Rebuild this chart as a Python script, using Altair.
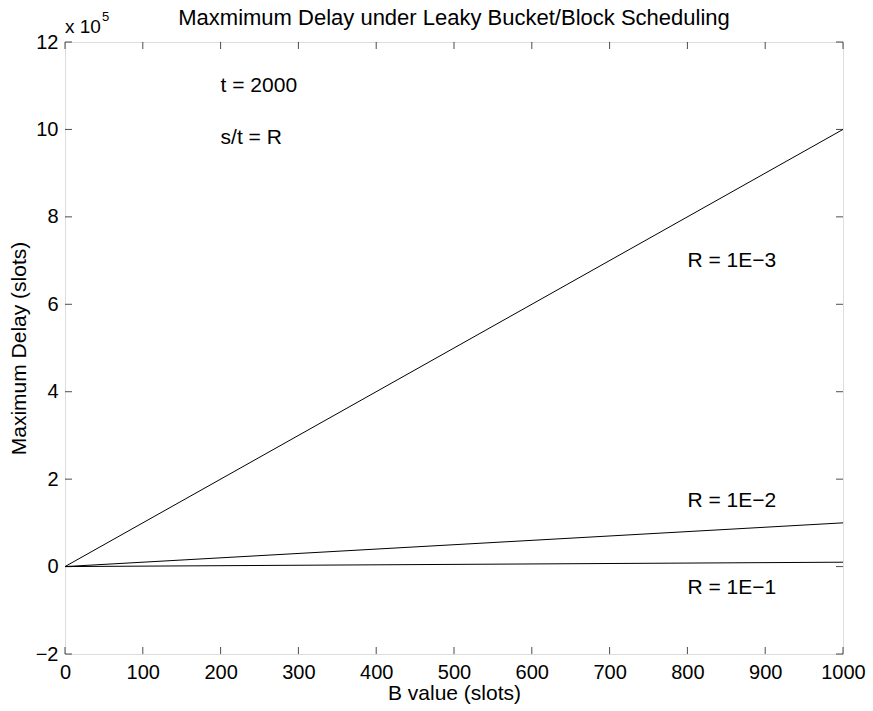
import altair as alt
import pandas as pd

# ---- data ----
b_values = [0, 1000]
delay_r_1e3 = [0, 10]      # x 1e5 slots
delay_r_1e2 = [0, 1]
delay_r_1e1 = [0, 0.1]
series_names = ["R = 1E-3", "R = 1E-2", "R = 1E-1"]

x_ticks = [0, 100, 200, 300, 400, 500, 600, 700, 800, 900, 1000]
y_ticks = [-2, 0, 2, 4, 6, 8, 10, 12]

ann_text = ["t = 2000", "s/t = R", "R = 1E\u22123", "R = 1E\u22122", "R = 1E\u22121"]
ann_x = [200, 200, 800, 800, 800]
ann_y = [11, 9.8, 7, 1.5, -0.5]

title_text = "Maxmimum Delay under Leaky Bucket/Block Scheduling"

FONT = "Liberation Sans"
FS = 21
TFS = 20

rows = []
for name, vals in zip(series_names, [delay_r_1e3, delay_r_1e2, delay_r_1e1]):
    for b, v in zip(b_values, vals):
        rows.append({"B": b, "D": v, "series": name})
df = pd.DataFrame(rows)

ann_df = pd.DataFrame({"B": ann_x, "D": ann_y, "label": ann_text})
xt_df = pd.DataFrame({"B": x_ticks, "Dlo": [-2] * len(x_ticks), "Dhi": [12] * len(x_ticks)})
yt_df = pd.DataFrame({"D": y_ticks, "Blo": [0] * len(y_ticks), "Bhi": [1000] * len(y_ticks)})
exp_df = pd.DataFrame({"B": [0], "D": [12]})
title_df = pd.DataFrame({"B": [500], "D": [12], "label": [title_text]})

xscale = alt.Scale(domain=[0, 1000], nice=False, zero=False)
yscale = alt.Scale(domain=[-2, 12], nice=False, zero=False)

x_axis = alt.Axis(values=x_ticks, format="d", tickSize=0, domain=False, grid=False,
                  labelFlush=False, labelOverlap=False, labelBound=False,
                  labelPadding=8, labelFontSize=TFS, labelFont=FONT, labelColor="black",
                  title="B value (slots)", titleFont=FONT, titleFontSize=FS,
                  titleFontWeight="normal", titleColor="black", titlePadding=0)
y_axis = alt.Axis(values=y_ticks, format="d", tickSize=0, domain=False, grid=False,
                  labelFlush=False, labelOverlap=False, labelBound=False,
                  labelPadding=7, labelFontSize=TFS, labelFont=FONT, labelColor="black",
                  title="Maximum Delay (slots)", titleFont=FONT, titleFontSize=FS,
                  titleFontWeight="normal", titleColor="black", titlePadding=6)

lines = alt.Chart(df).mark_line(color="black", strokeWidth=1, clip=True).encode(
    x=alt.X("B:Q", scale=xscale, axis=x_axis),
    y=alt.Y("D:Q", scale=yscale, axis=y_axis),
    detail="series:N",
)

ann = alt.Chart(ann_df).mark_text(align="left", baseline="middle", font=FONT,
                                  fontSize=FS, color="black").encode(
    x=alt.X("B:Q", scale=xscale), y=alt.Y("D:Q", scale=yscale), text="label:N")

title_mark = alt.Chart(title_df).mark_text(align="center", baseline="middle", font=FONT,
                                           fontSize=22, color="black", dy=-24).encode(
    x=alt.X("B:Q", scale=xscale), y=alt.Y("D:Q", scale=yscale), text="label:N")

tick_bottom = alt.Chart(xt_df).mark_tick(orient="vertical", color="black", thickness=1,
                                         size=7, yOffset=-3.5).encode(
    x=alt.X("B:Q", scale=xscale), y=alt.Y("Dlo:Q", scale=yscale))
tick_top = alt.Chart(xt_df).mark_tick(orient="vertical", color="black", thickness=1,
                                      size=7, yOffset=3.5).encode(
    x=alt.X("B:Q", scale=xscale), y=alt.Y("Dhi:Q", scale=yscale))
tick_left = alt.Chart(yt_df).mark_tick(orient="horizontal", color="black", thickness=1,
                                       size=7, xOffset=3.5).encode(
    x=alt.X("Blo:Q", scale=xscale), y=alt.Y("D:Q", scale=yscale))
tick_right = alt.Chart(yt_df).mark_tick(orient="horizontal", color="black", thickness=1,
                                        size=7, xOffset=-3.5).encode(
    x=alt.X("Bhi:Q", scale=xscale), y=alt.Y("D:Q", scale=yscale))

exp_base = alt.Chart(exp_df).mark_text(align="left", baseline="alphabetic", font=FONT,
                                       fontSize=19, color="black", dy=-9).encode(
    x=alt.X("B:Q", scale=xscale), y=alt.Y("D:Q", scale=yscale), text=alt.value("x 10"))
exp_sup = alt.Chart(exp_df).mark_text(align="left", baseline="alphabetic", font=FONT,
                                      fontSize=13, color="black", dx=37, dy=-21).encode(
    x=alt.X("B:Q", scale=xscale), y=alt.Y("D:Q", scale=yscale), text=alt.value("5"))

chart = alt.layer(lines, ann, title_mark, tick_bottom, tick_top, tick_left, tick_right,
                  exp_base, exp_sup).properties(
    width=778, height=612,
    autosize=alt.AutoSizeParams(type="none"),
    padding={"left": 65, "top": 42, "right": 30, "bottom": 57},
).configure_view(stroke="black", strokeWidth=1.3).configure(background="white")

chart.save("out.html", embed_options={"renderer": "svg", "actions": False})
